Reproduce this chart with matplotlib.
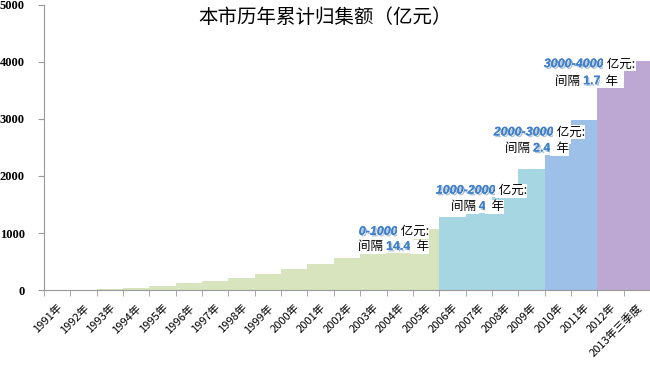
import matplotlib.pyplot as plt
import matplotlib.patheffects as pe
import numpy as np

# 数据：本市历年累计归集额（亿元）
years = ['1991年', '1992年', '1993年', '1994年', '1995年', '1996年', '1997年',
         '1998年', '1999年', '2000年', '2001年', '2002年', '2003年', '2004年',
         '2005年', '2006年', '2007年', '2008年', '2009年', '2010年', '2011年',
         '2012年', '2013年三季度']
totals = [3, 8, 20, 35, 76, 118, 153, 215, 287, 364, 463, 569, 690, 870, 1075,
          1285, 1540, 1780, 2130, 2560, 2990, 3540, 4020]
# 每年所属的区间 (0: 0-1000, 1: 1000-2000, 2: 2000-3000, 3: 3000-4000)
stage = [0] * 15 + [1] * 4 + [2] * 2 + [3] * 2
stage_colors = ['#D7E4BD', '#A5D6E2', '#9DC0E8', '#BCA8D2']

# 注释：区间与间隔年数
ranges = ['0-1000', '1000-2000', '2000-3000', '3000-4000']
gaps = ['14.4', '4', '2.4', '1.7']
label_pos = [(12.93, 1021, 12.48, 757), (16.65, 1743, 16.0, 1461),
             (18.85, 2764, 18.06, 2482), (20.75, 3961, 19.96, 3662)]

plt.rcParams['font.family'] = ['Noto Sans CJK SC', 'DejaVu Sans']

fig = plt.figure(figsize=(6.5, 3.67), dpi=100)
ax = fig.add_axes([0.0677, 0.2098, 0.9323, 0.7766])

x = np.arange(len(years))
ax.bar(x, totals, width=1.0, color=[stage_colors[s] for s in stage],
       linewidth=0, zorder=1)

ax.set_xlim(-0.5, len(years) - 0.5)
ax.set_ylim(0, 5000)
ax.set_yticks([0, 1000, 2000, 3000, 4000, 5000])
ax.set_yticklabels(['0', '1000', '2000', '3000', '4000', '5000'],
                   family='Liberation Serif', fontweight='bold', fontsize=9)

ax.set_xticks(x)
ax.set_xticklabels(years, rotation=45, ha='right', va='top',
                   rotation_mode='anchor', fontsize=8)
ax.tick_params(axis='x', which='major', length=0, pad=9)
ax.set_xticks(np.arange(-0.5, len(years), 1.0), minor=True)
ax.tick_params(axis='x', which='minor', length=4, color='#999999', direction='out')
ax.tick_params(axis='y', length=4, color='#999999', direction='out', pad=10)

for side in ['top', 'right']:
    ax.spines[side].set_visible(False)
for side in ['left', 'bottom']:
    ax.spines[side].set_color('#999999')

blue = '#3F7FCB'
shadow = [pe.withSimplePatchShadow(offset=(1.2, -1.2), shadow_rgbFace='#7F9FC4', alpha=0.6),
          pe.Normal()]
box = dict(facecolor='white', edgecolor='none', pad=0.4)

for r, g, (x1, y1, x2, y2) in zip(ranges, gaps, label_pos):
    ax.text(x1, y1, r, color=blue, fontsize=9, fontweight='bold', style='italic',
            family='Liberation Sans', ha='right', va='center', path_effects=shadow,
            bbox=box, zorder=3)
    ax.text(x1, y1, ' 亿元:', color='black', fontsize=9, style='italic',
            ha='left', va='center', bbox=box, zorder=3)
    t = ax.text(x2, y2, '间隔 ', color='black', fontsize=9, style='italic',
                ha='right', va='center', bbox=box, zorder=3)
    t2 = ax.annotate(g, xy=(1, 0.5), xycoords=t, color=blue, fontsize=9,
                     fontweight='bold', family='Liberation Sans', ha='left', va='center',
                     path_effects=shadow, bbox=box, zorder=3)
    ax.annotate('  年', xy=(1, 0.5), xycoords=t2, color='black', fontsize=9,
                style='italic', ha='left', va='center', bbox=box, zorder=3)

fig.text(0.5, 0.951, '本市历年累计归集额（亿元）', ha='center', va='center', fontsize=14)

fig.savefig('out.png', dpi=100)
